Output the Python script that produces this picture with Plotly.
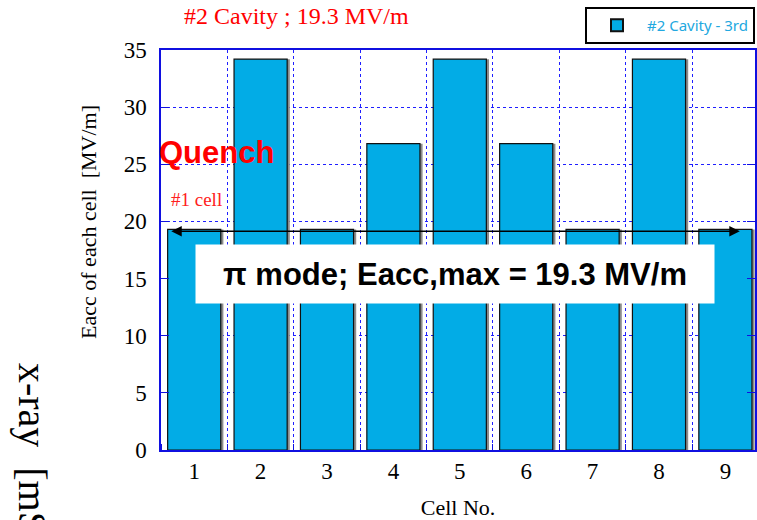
import plotly.graph_objects as go

# Accelerating field measured in each cell of the 9-cell cavity
cells = [1, 2, 3, 4, 5, 6, 7, 8, 9]
eacc = [19.3, 34.2, 19.3, 26.8, 34.2, 26.8, 19.3, 34.2, 19.3]
series_name = "#2 Cavity - 3rd"
title_text = "#2 Cavity ; 19.3 MV/m"
y_title = "Eacc of each cell  [MV/m]"
mode_text = "\u03c0 mode; Eacc,max = 19.3 MV/m"
eacc_max = 19.3

BAR = "#02ace6"
GRID = "#1f1fff"
SERIF = "Liberation Serif, Times New Roman, serif"
SANS = "Liberation Sans, Arial, sans-serif"

fig = go.Figure()

# soft grey drop shadow behind every bar
fig.add_trace(go.Bar(
    x=cells, y=eacc, width=0.8, offset=-0.36,
    marker=dict(color="#8c8c8c", line=dict(width=0)),
    showlegend=False, hoverinfo="skip",
))
fig.add_trace(go.Bar(
    x=cells, y=eacc, width=0.8, offset=-0.4,
    name=series_name,
    marker=dict(color=BAR, line=dict(color="#111111", width=1.2)),
))

fig.update_layout(
    width=757, height=520,
    margin=dict(l=161, r=0, t=50, b=70),
    paper_bgcolor="white", plot_bgcolor="white",
    barmode="overlay",
    showlegend=True,
    legend=dict(
        x=1.0, xanchor="right", y=1.1075, yanchor="top",
        bordercolor="black", borderwidth=2, bgcolor="white",
        font=dict(family="Noto Sans, DejaVu Sans, sans-serif", size=15, color="#22a8e0"),
        itemsizing="constant", itemwidth=50,
    ),
    xaxis=dict(
        range=[0.5, 9.446],
        tickvals=cells, ticktext=[str(c) for c in cells],
        ticks="", showgrid=False, zeroline=False,
        showline=True, linecolor="#1010e0", linewidth=1.5, mirror=True,
        tickfont=dict(family=SERIF, size=23, color="black"),
        ticklabelstandoff=0,
        minor=dict(
            tick0=0.5, dtick=1, showgrid=True,
            gridcolor=GRID, griddash="dot", gridwidth=1,
            ticks="inside", ticklen=6, tickcolor="#1010e0",
        ),
        title=dict(text="Cell No.", font=dict(family=SERIF, size=22, color="black"), standoff=16),
    ),
    yaxis=dict(
        range=[0, 35], dtick=5,
        ticks="inside", ticklen=8, tickcolor="#1010e0",
        showgrid=True, gridcolor=GRID, griddash="dot", gridwidth=1,
        zeroline=False,
        showline=True, linecolor="#1010e0", linewidth=1.5, mirror="ticks",
        tickfont=dict(family=SERIF, size=23, color="black"),
        ticklabelstandoff=8,
    ),
)

# y-axis label, sitting a little above the middle of the axis
fig.add_annotation(
    x=-0.123, y=0.57, xref="paper", yref="paper",
    text=y_title, showarrow=False, textangle=-90,
    font=dict(family=SERIF, size=22, color="black"),
    xanchor="center", yanchor="middle",
)

# double-headed arrow spanning the cavity at the pi-mode level
fig.add_annotation(
    x=9.217, y=eacc_max - 0.15, ax=0.632, ay=eacc_max - 0.15,
    xref="x", yref="y", axref="x", ayref="y",
    text="", showarrow=True, arrowside="end+start",
    arrowhead=2, arrowsize=1.4, arrowwidth=1.5, arrowcolor="black",
)

fig.add_annotation(
    x=4.928, y=15.4, xref="x", yref="y",
    text=f"<b>{mode_text}</b>", showarrow=False,
    font=dict(family=SANS, size=31, color="black"),
    bgcolor="white", width=502, height=42, borderpad=8,
    xanchor="center", yanchor="middle",
)

fig.add_annotation(
    x=1.34, y=26.0, xref="x", yref="y",
    text="<b>Quench</b>", showarrow=False,
    font=dict(family=SANS, size=31, color="#ff0000"),
    xanchor="center", yanchor="middle",
)
fig.add_annotation(
    x=1.03, y=21.96, xref="x", yref="y",
    text="#1 cell", showarrow=False,
    font=dict(family=SERIF, size=19, color="#ff2020"),
    xanchor="center", yanchor="middle",
)

fig.add_annotation(
    x=0.228, y=1.085, xref="paper", yref="paper",
    text=title_text, showarrow=False,
    font=dict(family=SERIF, size=24, color="#ff0000"),
    xanchor="center", yanchor="middle",
)

# secondary quantity label on the far left
fig.add_annotation(
    x=-0.215, y=-0.078, xref="paper", yref="paper",
    text="x-ray  [mSv/h]", showarrow=False, textangle=90,
    font=dict(family=SERIF, size=40, color="black"),
    xanchor="center", yanchor="middle",
)

fig.write_html("out.html")
